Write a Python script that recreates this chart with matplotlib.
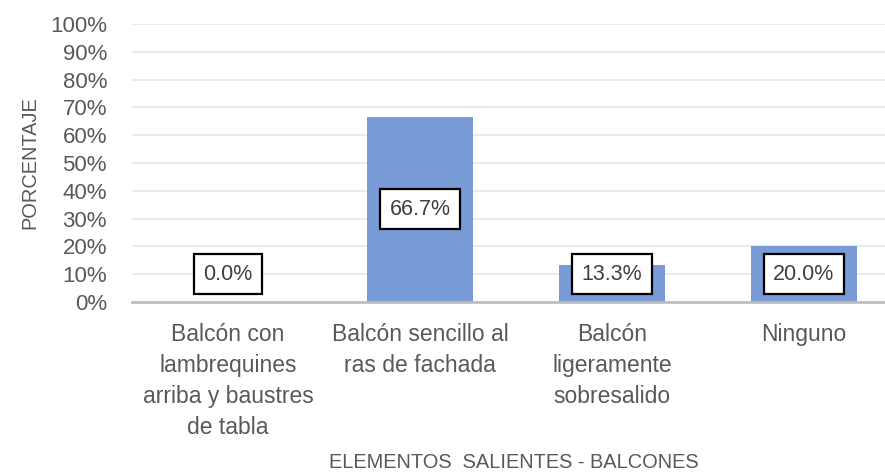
import matplotlib.pyplot as plt
import numpy as np

# Data
categorias = ['Balcón con\nlambrequines\narriba y baustres\nde tabla',
              'Balcón sencillo al\nras de fachada',
              'Balcón\nligeramente\nsobresalido',
              'Ninguno']
porcentajes = [0.0, 66.7, 13.3, 20.0]
yticks = list(range(0, 101, 10))

gris = '#595959'
fuente = 'Liberation Sans'

fig = plt.figure(figsize=(8.85, 4.72), dpi=100)
ax = fig.add_axes([132/885, 170/472, 753/885, 278/472])

x = np.arange(len(categorias))
ax.bar(x, porcentajes, width=0.55, color='#7A9CD6', zorder=2)

# etiquetas de datos en recuadro
for xi, v in zip(x, porcentajes):
    ax.text(xi, max(v/2, 10), f'{v:.1f}%', ha='center', va='center',
            fontsize=15.5, color='#404040', family=fuente, zorder=3,
            bbox=dict(boxstyle='square,pad=0.45', fc='white', ec='black', lw=1.6))

ax.set_xlim(-0.5, 753/192 - 0.5)
ax.set_ylim(0, 100)
ax.set_yticks(yticks)
ax.set_yticklabels([f'{t}%' for t in yticks], fontsize=16, color=gris, family=fuente)
ax.set_xticks(x)
ax.set_xticklabels(categorias, fontsize=16.5, color=gris, family=fuente,
                   linespacing=1.45, va='top')
ax.tick_params(length=0, pad=15, axis='x')
ax.tick_params(length=0, pad=18, axis='y')
ax.grid(axis='y', color='#E6E6E6', lw=1.2, zorder=0)
for s in ['top', 'right', 'left']:
    ax.spines[s].set_visible(False)
ax.spines['bottom'].set_color('#BFBFBF')
ax.spines['bottom'].set_linewidth(2)

ax.set_ylabel('PORCENTAJE', fontsize=14.4, color=gris, family=fuente, labelpad=8)
fig.text(514/885, 1 - 468/472, 'ELEMENTOS  SALIENTES - BALCONES', ha='center', va='baseline',
         fontsize=14.4, color=gris, family=fuente)

fig.savefig('out.png', dpi=100)
